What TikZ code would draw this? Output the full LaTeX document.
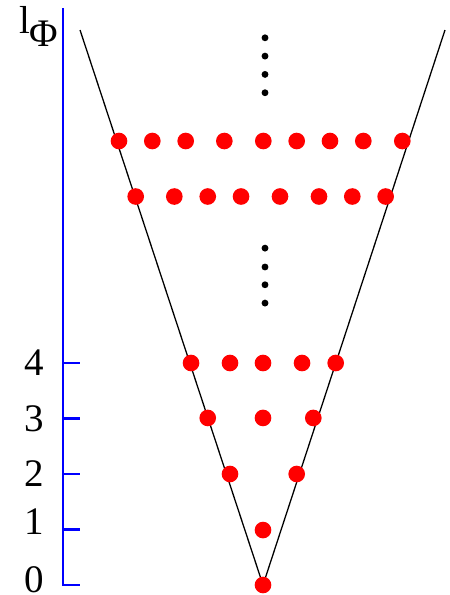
\documentclass[tikz,border=0pt]{standalone}
\usepackage{fontspec}
\setmainfont{Liberation Serif}
\usepackage{tikz}
\usetikzlibrary{calc}
\definecolor{dotred}{RGB}{255, 0, 0}
\definecolor{axisblue}{RGB}{0, 0, 255}

\begin{document}
\begin{tikzpicture}[x=0.5cm, y=0.5cm,
  reddot/.style={fill=dotred},
  blackdot/.style={fill=black},
  axisline/.style={axisblue, line width=0.65pt}]
  \useasboundingbox (-4.739,-0.18) rectangle (3.369,10.541);

  % 纵轴与刻度
  \coordinate (axbot) at (-3.604,0);
  \coordinate (axtop) at (-3.604,10.396);
  \draw[axisline] (axtop) -- (axbot) -- ++(0.307,0);
  \foreach \n in {1,2,3,4} {
    \draw[axisline] (-3.604,\n) -- ++(0.307,0);
  }
  \foreach \n/\ly in {0/0.097, 1/1.144, 2/2.009, 3/3.0, 4/4.01} {
    \node (lab\n) at (-4.126,\ly) {\n};
  }
  \node[anchor=base west, inner sep=0pt] (labtop) at (-4.41,9.93) {l\raisebox{-3.3pt}{Φ}};

  % 楔形边界
  \coordinate (apex) at (0,0);
  \coordinate (tl) at (-3.297,10);
  \coordinate (tr) at (3.279,10);
  \draw[line width=0.33pt] (tl) -- (apex) -- (tr);

  % 各层红点
  \foreach \x/\y in {0/0, 0/0.99,
      -0.595/2, 0.607/2,
      -0.996/3.01, 0/3.01, 0.906/3.01,
      -1.297/4, -0.595/4, 0/4, 0.703/4, 1.31/4,
      -2.294/7, -1.598/7, -0.996/7, -0.396/7, 0.306/7, 1.009/7, 1.609/7, 2.21/7,
      -2.595/8, -1.995/8, -1.393/8, -0.697/8, 0.005/8, 0.607/8, 1.207/8, 1.807/8, 2.51/8} {
    \fill[reddot] (\x,\y) circle (0.15);
  }

  % 省略号
  \foreach \y in {5.08, 5.41, 5.73, 6.07, 8.87, 9.20, 9.53, 9.86} {
    \fill[blackdot] (0.036,\y) circle (0.062);
  }
\end{tikzpicture}
\end{document}
